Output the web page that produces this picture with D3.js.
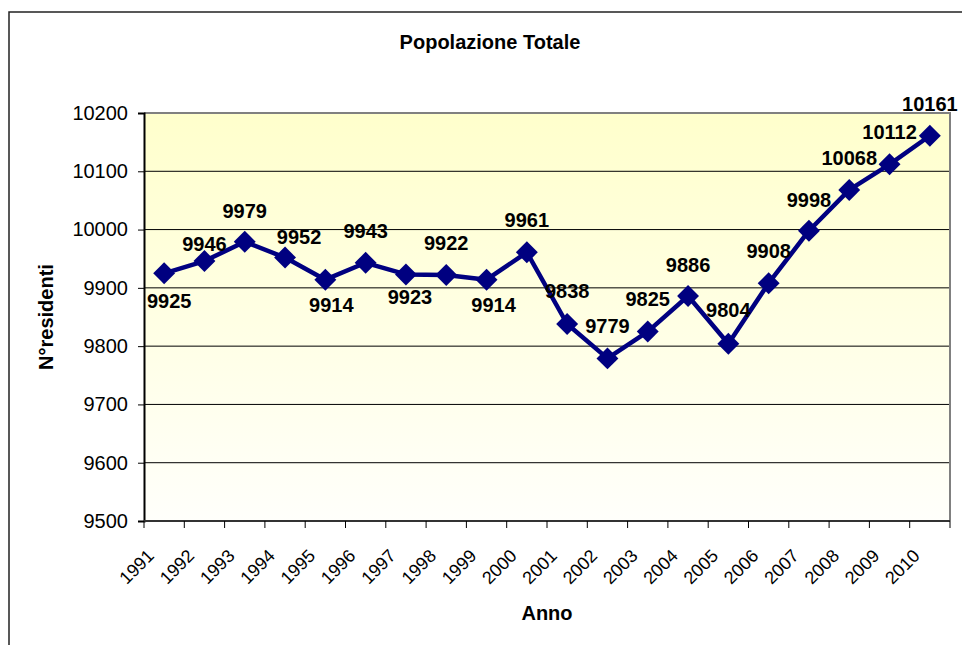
<html>
<head>
<meta charset="utf-8">
<script src="https://cdn.jsdelivr.net/npm/d3@7"></script>
<style>
  body { margin: 0; background: #fff; }
  svg { display: block; font-family: "Liberation Sans", Arial, sans-serif; }
  .tick-label { font-size: 20px; fill: #000; }
  .x-label { font-size: 18px; fill: #000; }
  .val-label { font-size: 20px; font-weight: bold; fill: #000; }
  .title { font-size: 20px; font-weight: bold; }
</style>
</head>
<body>
<svg id="chart"></svg>
<script>
const WIDTH = 962
const HEIGHT = 645

// data
const years = ["1991","1992","1993","1994","1995","1996","1997","1998","1999","2000",
               "2001","2002","2003","2004","2005","2006","2007","2008","2009","2010"]
const residents = [9925, 9946, 9979, 9952, 9914, 9943, 9923, 9922, 9914, 9961,
                   9838, 9779, 9825, 9886, 9804, 9908, 9998, 10068, 10112, 10161]
const yTicks = [9500, 9600, 9700, 9800, 9900, 10000, 10100, 10200]

// where each value label sits relative to its point
const labelDx = [5, 0, 0, 14, 6, 0, 4, 0, 7, 0, 0, 0, 0, 0, 0, 0, 0, 0, 0, 0]
const labelDy = [35, -10, -24, -14, 32, -25, 30, -25, 32, -25, -26, -25, -26, -24, -27, -25, -24, -25, -25, -25]

const plot = {left: 144, top: 113, right: 950, bottom: 521}

const svg = d3.select("#chart")
    .attr("width", WIDTH)
    .attr("height", HEIGHT)

// outer frame
svg.append("rect")
    .attr("x", 9).attr("y", 12)
    .attr("width", 1000).attr("height", 700)
    .attr("fill", "white")
    .attr("stroke", "#222")
    .attr("stroke-width", 1.5)

let defs = svg.append("defs")
let grad = defs.append("linearGradient")
    .attr("id", "bg").attr("x1", 0).attr("y1", 0).attr("x2", 0).attr("y2", 1)
grad.append("stop").attr("offset", "0%").attr("stop-color", "#ffffcc")
grad.append("stop").attr("offset", "100%").attr("stop-color", "#fffffb")

let x = d3.scaleBand()
    .domain(years)
    .range([plot.left, plot.right])

let y = d3.scaleLinear()
    .domain([9500, 10200])
    .range([plot.bottom, plot.top])

// plot background
svg.append("rect")
    .attr("x", plot.left).attr("y", plot.top)
    .attr("width", plot.right - plot.left)
    .attr("height", plot.bottom - plot.top)
    .attr("fill", "url(#bg)")

// gridlines
svg.append("g")
    .selectAll("line")
    .data(yTicks.filter(d => d > 9500 && d < 10200))
    .enter()
    .append("line")
        .attr("x1", plot.left).attr("x2", plot.right)
        .attr("y1", d => y(d)).attr("y2", d => y(d))
        .attr("stroke", "#000")
        .attr("stroke-width", 1)

// grey border top & right
svg.append("path")
    .attr("d", `M${plot.left},${plot.top}H${plot.right}V${plot.bottom}`)
    .attr("fill", "none")
    .attr("stroke", "#808080")
    .attr("stroke-width", 2)

// y axis
let yAxis = svg.append("g")
    .attr("transform", `translate(${plot.left},0)`)
    .call(d3.axisLeft(y).tickValues(yTicks).tickFormat(d3.format("d")).tickSize(6).tickPadding(10))
yAxis.select(".domain").attr("stroke", "#000").attr("stroke-width", 2)
yAxis.selectAll(".tick line").attr("stroke", "#000")
yAxis.selectAll(".tick text")
    .attr("class", "tick-label")
    .attr("fill", "#000")

// x axis: ticks on band edges
let edges = years.map(d => x(d)).concat([plot.right])
let xg = svg.append("g")
xg.append("line")
    .attr("x1", plot.left).attr("x2", plot.right)
    .attr("y1", plot.bottom).attr("y2", plot.bottom)
    .attr("stroke", "#333").attr("stroke-width", 2)
xg.selectAll("line.t")
    .data(edges)
    .enter()
    .append("line")
        .attr("class", "t")
        .attr("x1", d => d).attr("x2", d => d)
        .attr("y1", plot.bottom).attr("y2", plot.bottom + 7)
        .attr("stroke", "#000")
xg.selectAll("text")
    .data(years)
    .enter()
    .append("text")
        .attr("class", "x-label")
        .attr("text-anchor", "end")
        .attr("transform", d => `translate(${x(d) + x.bandwidth() / 2 - 9},${plot.bottom + 36}) rotate(-45)`)
        .text(d => d)

// line
let pts = years.map((d, i) => ({year: d, value: residents[i], i: i}))
let line = d3.line()
    .x(d => x(d.year) + x.bandwidth() / 2)
    .y(d => y(d.value))

svg.append("path")
    .datum(pts)
    .attr("d", line)
    .attr("fill", "none")
    .attr("stroke", "#000080")
    .attr("stroke-width", 4.5)
    .attr("stroke-linejoin", "round")

svg.append("g")
    .selectAll("path")
    .data(pts)
    .enter()
    .append("path")
        .attr("d", d3.symbol().type(d3.symbolSquare).size(240))
        .attr("transform", d => `translate(${x(d.year) + x.bandwidth() / 2},${y(d.value)}) rotate(45)`)
        .attr("fill", "#000080")

// value labels
svg.append("g")
    .selectAll("text")
    .data(pts)
    .enter()
    .append("text")
        .attr("class", "val-label")
        .attr("text-anchor", "middle")
        .attr("x", d => x(d.year) + x.bandwidth() / 2 + labelDx[d.i])
        .attr("y", d => y(d.value) + labelDy[d.i])
        .text(d => d.value)

// titles
svg.append("text")
    .attr("class", "title")
    .attr("x", 490).attr("y", 49)
    .attr("text-anchor", "middle")
    .text("Popolazione Totale")

svg.append("text")
    .attr("class", "title")
    .attr("x", (plot.left + plot.right) / 2).attr("y", 620)
    .attr("text-anchor", "middle")
    .text("Anno")

svg.append("text")
    .attr("class", "title")
    .attr("transform", `translate(53,${(plot.top + plot.bottom) / 2}) rotate(-90)`)
    .attr("text-anchor", "middle")
    .text("N°residenti")
</script>
</body>
</html>
